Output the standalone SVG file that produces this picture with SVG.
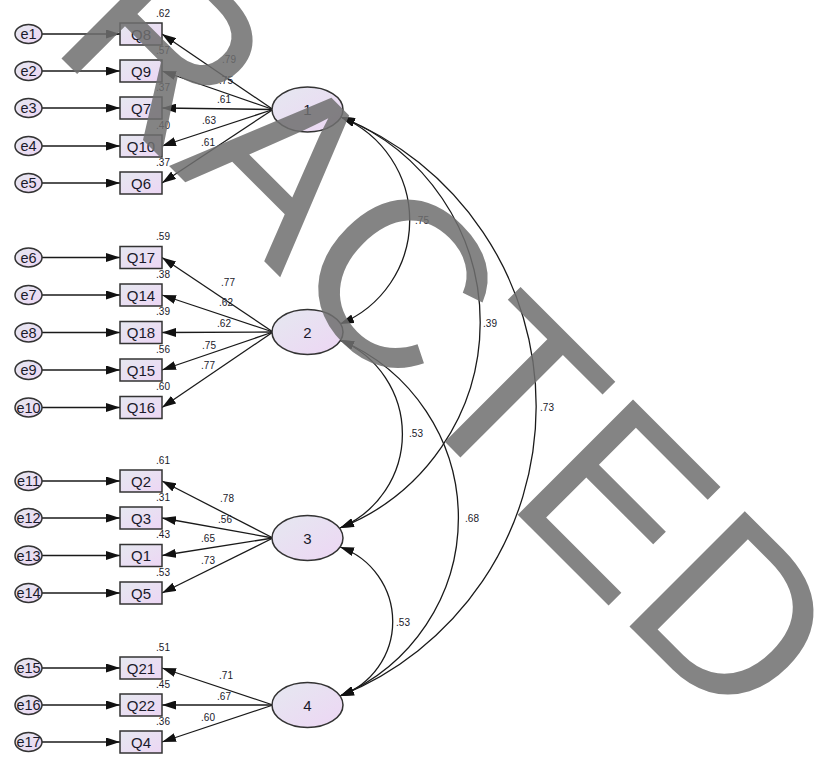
<svg xmlns="http://www.w3.org/2000/svg" width="817" height="757" viewBox="0 0 817 757">
<style>
.n{fill:url(#g);stroke:#333;stroke-width:1.5}
.c{fill:none;stroke:#1a1a1a;stroke-width:1.3}
.t{font-family:"Liberation Sans",Arial,sans-serif;font-size:15px;fill:#1a1a2a;text-anchor:middle}
.e{font-size:14.5px}
.s{font-family:"Liberation Sans",Arial,sans-serif;font-size:10px;fill:#1a1a2a;text-anchor:middle}
.w{font-family:"Liberation Sans",Arial,sans-serif;font-size:237px;fill:#6f6f6f;opacity:0.85}
</style>
<defs>
<linearGradient id="g" x1="0" y1="0" x2="1" y2="1"><stop offset="0" stop-color="#e5e8f0"/><stop offset="1" stop-color="#edd6f4"/></linearGradient>
<marker id="ah" viewBox="0 0 14 9" refX="14" refY="4.5" markerWidth="14" markerHeight="9" markerUnits="userSpaceOnUse" orient="auto-start-reverse"><path d="M0,0 L14,4.5 L0,9 z" fill="#111"/></marker>
</defs>
<rect width="817" height="757" fill="#fff"/>
<g id="connectors" class="c" marker-end="url(#ah)">
<line x1="42" y1="34" x2="120" y2="34"/><line x1="42" y1="71" x2="120" y2="71"/><line x1="42" y1="108" x2="120" y2="108"/><line x1="42" y1="146" x2="120" y2="146"/><line x1="42" y1="183" x2="120" y2="183"/>
<line x1="42" y1="257.5" x2="120" y2="257.5"/><line x1="42" y1="295" x2="120" y2="295"/><line x1="42" y1="332.5" x2="120" y2="332.5"/><line x1="42" y1="370" x2="120" y2="370"/><line x1="42" y1="407.5" x2="120" y2="407.5"/>
<line x1="42" y1="481" x2="120" y2="481"/><line x1="42" y1="518" x2="120" y2="518"/><line x1="42" y1="555.5" x2="120" y2="555.5"/><line x1="42" y1="593" x2="120" y2="593"/>
<line x1="42" y1="668" x2="120" y2="668"/><line x1="42" y1="705" x2="120" y2="705"/><line x1="42" y1="742" x2="120" y2="742"/>
<line x1="273" y1="109.5" x2="162" y2="34"/><line x1="273" y1="109.5" x2="162" y2="71"/><line x1="273" y1="109.5" x2="162" y2="108"/><line x1="273" y1="109.5" x2="162" y2="146"/><line x1="273" y1="109.5" x2="162" y2="183"/>
<line x1="273" y1="332" x2="162" y2="257.5"/><line x1="273" y1="332" x2="162" y2="295"/><line x1="273" y1="332" x2="162" y2="332.5"/><line x1="273" y1="332" x2="162" y2="370"/><line x1="273" y1="332" x2="162" y2="407.5"/>
<line x1="273" y1="538" x2="162" y2="481"/><line x1="273" y1="538" x2="162" y2="518"/><line x1="273" y1="538" x2="162" y2="555.5"/><line x1="273" y1="538" x2="162" y2="593"/>
<line x1="273" y1="705" x2="162" y2="668"/><line x1="273" y1="705" x2="162" y2="705"/><line x1="273" y1="705" x2="162" y2="742"/>
<g marker-start="url(#ah)">
<path d="M341,117 A112,112 0 0 1 340,324"/>
<path d="M341,117 A221,221 0 0 1 340,528"/>
<path d="M341,117 A312,312 0 0 1 340,696"/>
<path d="M340,340 A102,102 0 0 1 340,528"/>
<path d="M340,340 A193,193 0 0 1 340,696"/>
<path d="M340,547 A79,79 0 0 1 340,696"/>
</g>
</g>
<g id="labels" class="s">
<text x="163" y="16.5">.62</text><text x="163" y="53.5">.57</text><text x="163" y="90.5">.37</text><text x="163" y="128.5">.40</text><text x="163" y="165.5">.37</text>
<text x="229" y="62.5">.79</text><text x="226" y="83.5">.75</text><text x="224" y="102.5">.61</text><text x="209" y="123.5">.63</text><text x="208" y="145.5">.61</text>
<text x="163" y="240">.59</text><text x="163" y="277.5">.38</text><text x="163" y="315">.39</text><text x="163" y="352.5">.56</text><text x="163" y="390">.60</text>
<text x="228" y="285.5">.77</text><text x="226" y="305.5">.62</text><text x="224" y="326.5">.62</text><text x="209" y="348.5">.75</text><text x="208" y="368.5">.77</text>
<text x="163" y="463.5">.61</text><text x="163" y="500.5">.31</text><text x="163" y="538">.43</text><text x="163" y="575.5">.53</text>
<text x="227" y="501.5">.78</text><text x="225" y="522.5">.56</text><text x="208" y="541.5">.65</text><text x="208" y="563.5">.73</text>
<text x="163" y="650.5">.51</text><text x="163" y="687.5">.45</text><text x="163" y="724.5">.36</text>
<text x="226" y="678.5">.71</text><text x="224" y="699.5">.67</text><text x="208" y="720.5">.60</text>
<text x="422" y="223.5">.75</text><text x="490" y="326.5">.39</text><text x="547" y="410.5">.73</text><text x="416" y="436.5">.53</text><text x="472" y="521.5">.68</text><text x="403" y="625.5">.53</text>
</g>
<g id="e1"><ellipse class="n" cx="28.5" cy="34" rx="13.5" ry="9.5"/><text class="t e" x="28.5" y="39">e1</text></g>
<g id="e2"><ellipse class="n" cx="28.5" cy="71" rx="13.5" ry="9.5"/><text class="t e" x="28.5" y="76">e2</text></g>
<g id="e3"><ellipse class="n" cx="28.5" cy="108" rx="13.5" ry="9.5"/><text class="t e" x="28.5" y="113">e3</text></g>
<g id="e4"><ellipse class="n" cx="28.5" cy="146" rx="13.5" ry="9.5"/><text class="t e" x="28.5" y="151">e4</text></g>
<g id="e5"><ellipse class="n" cx="28.5" cy="183" rx="13.5" ry="9.5"/><text class="t e" x="28.5" y="188">e5</text></g>
<g id="e6"><ellipse class="n" cx="28.5" cy="257.5" rx="13.5" ry="9.5"/><text class="t e" x="28.5" y="262.5">e6</text></g>
<g id="e7"><ellipse class="n" cx="28.5" cy="295" rx="13.5" ry="9.5"/><text class="t e" x="28.5" y="300">e7</text></g>
<g id="e8"><ellipse class="n" cx="28.5" cy="332.5" rx="13.5" ry="9.5"/><text class="t e" x="28.5" y="337.5">e8</text></g>
<g id="e9"><ellipse class="n" cx="28.5" cy="370" rx="13.5" ry="9.5"/><text class="t e" x="28.5" y="375">e9</text></g>
<g id="e10"><ellipse class="n" cx="28.5" cy="407.5" rx="13.5" ry="9.5"/><text class="t e" x="28.5" y="412.5">e10</text></g>
<g id="e11"><ellipse class="n" cx="28.5" cy="481" rx="13.5" ry="9.5"/><text class="t e" x="28.5" y="486">e11</text></g>
<g id="e12"><ellipse class="n" cx="28.5" cy="518" rx="13.5" ry="9.5"/><text class="t e" x="28.5" y="523">e12</text></g>
<g id="e13"><ellipse class="n" cx="28.5" cy="555.5" rx="13.5" ry="9.5"/><text class="t e" x="28.5" y="560.5">e13</text></g>
<g id="e14"><ellipse class="n" cx="28.5" cy="593" rx="13.5" ry="9.5"/><text class="t e" x="28.5" y="598">e14</text></g>
<g id="e15"><ellipse class="n" cx="28.5" cy="668" rx="13.5" ry="9.5"/><text class="t e" x="28.5" y="673">e15</text></g>
<g id="e16"><ellipse class="n" cx="28.5" cy="705" rx="13.5" ry="9.5"/><text class="t e" x="28.5" y="710">e16</text></g>
<g id="e17"><ellipse class="n" cx="28.5" cy="742" rx="13.5" ry="9.5"/><text class="t e" x="28.5" y="747">e17</text></g>
<g id="Q8"><rect class="n" x="120" y="23" width="42" height="22"/><text class="t" x="141" y="39.5">Q8</text></g>
<g id="Q9"><rect class="n" x="120" y="60" width="42" height="22"/><text class="t" x="141" y="76.5">Q9</text></g>
<g id="Q7"><rect class="n" x="120" y="97" width="42" height="22"/><text class="t" x="141" y="113.5">Q7</text></g>
<g id="Q10"><rect class="n" x="120" y="135" width="42" height="22"/><text class="t" x="141" y="151.5">Q10</text></g>
<g id="Q6"><rect class="n" x="120" y="172" width="42" height="22"/><text class="t" x="141" y="188.5">Q6</text></g>
<g id="Q17"><rect class="n" x="120" y="246.5" width="42" height="22"/><text class="t" x="141" y="263">Q17</text></g>
<g id="Q14"><rect class="n" x="120" y="284" width="42" height="22"/><text class="t" x="141" y="300.5">Q14</text></g>
<g id="Q18"><rect class="n" x="120" y="321.5" width="42" height="22"/><text class="t" x="141" y="338">Q18</text></g>
<g id="Q15"><rect class="n" x="120" y="359" width="42" height="22"/><text class="t" x="141" y="375.5">Q15</text></g>
<g id="Q16"><rect class="n" x="120" y="396.5" width="42" height="22"/><text class="t" x="141" y="413">Q16</text></g>
<g id="Q2"><rect class="n" x="120" y="470" width="42" height="22"/><text class="t" x="141" y="486.5">Q2</text></g>
<g id="Q3"><rect class="n" x="120" y="507" width="42" height="22"/><text class="t" x="141" y="523.5">Q3</text></g>
<g id="Q1"><rect class="n" x="120" y="544.5" width="42" height="22"/><text class="t" x="141" y="561">Q1</text></g>
<g id="Q5"><rect class="n" x="120" y="582" width="42" height="22"/><text class="t" x="141" y="598.5">Q5</text></g>
<g id="Q21"><rect class="n" x="120" y="657" width="42" height="22"/><text class="t" x="141" y="673.5">Q21</text></g>
<g id="Q22"><rect class="n" x="120" y="694" width="42" height="22"/><text class="t" x="141" y="710.5">Q22</text></g>
<g id="Q4"><rect class="n" x="120" y="731" width="42" height="22"/><text class="t" x="141" y="747.5">Q4</text></g>
<g id="F1"><ellipse class="n" cx="307.5" cy="109.5" rx="35.5" ry="22.5"/><text class="t" x="307.5" y="115">1</text></g>
<g id="F2"><ellipse class="n" cx="307.5" cy="332" rx="35.5" ry="22.5"/><text class="t" x="307.5" y="337.5">2</text></g>
<g id="F3"><ellipse class="n" cx="307.5" cy="538" rx="35.5" ry="22.5"/><text class="t" x="307.5" y="543.5">3</text></g>
<g id="F4"><ellipse class="n" cx="307.5" cy="705" rx="35.5" ry="22.5"/><text class="t" x="307.5" y="710.5">4</text></g>
<g id="watermark"><text class="w" transform="translate(47.7,44.7) rotate(45)">RACTED</text></g>
</svg>
